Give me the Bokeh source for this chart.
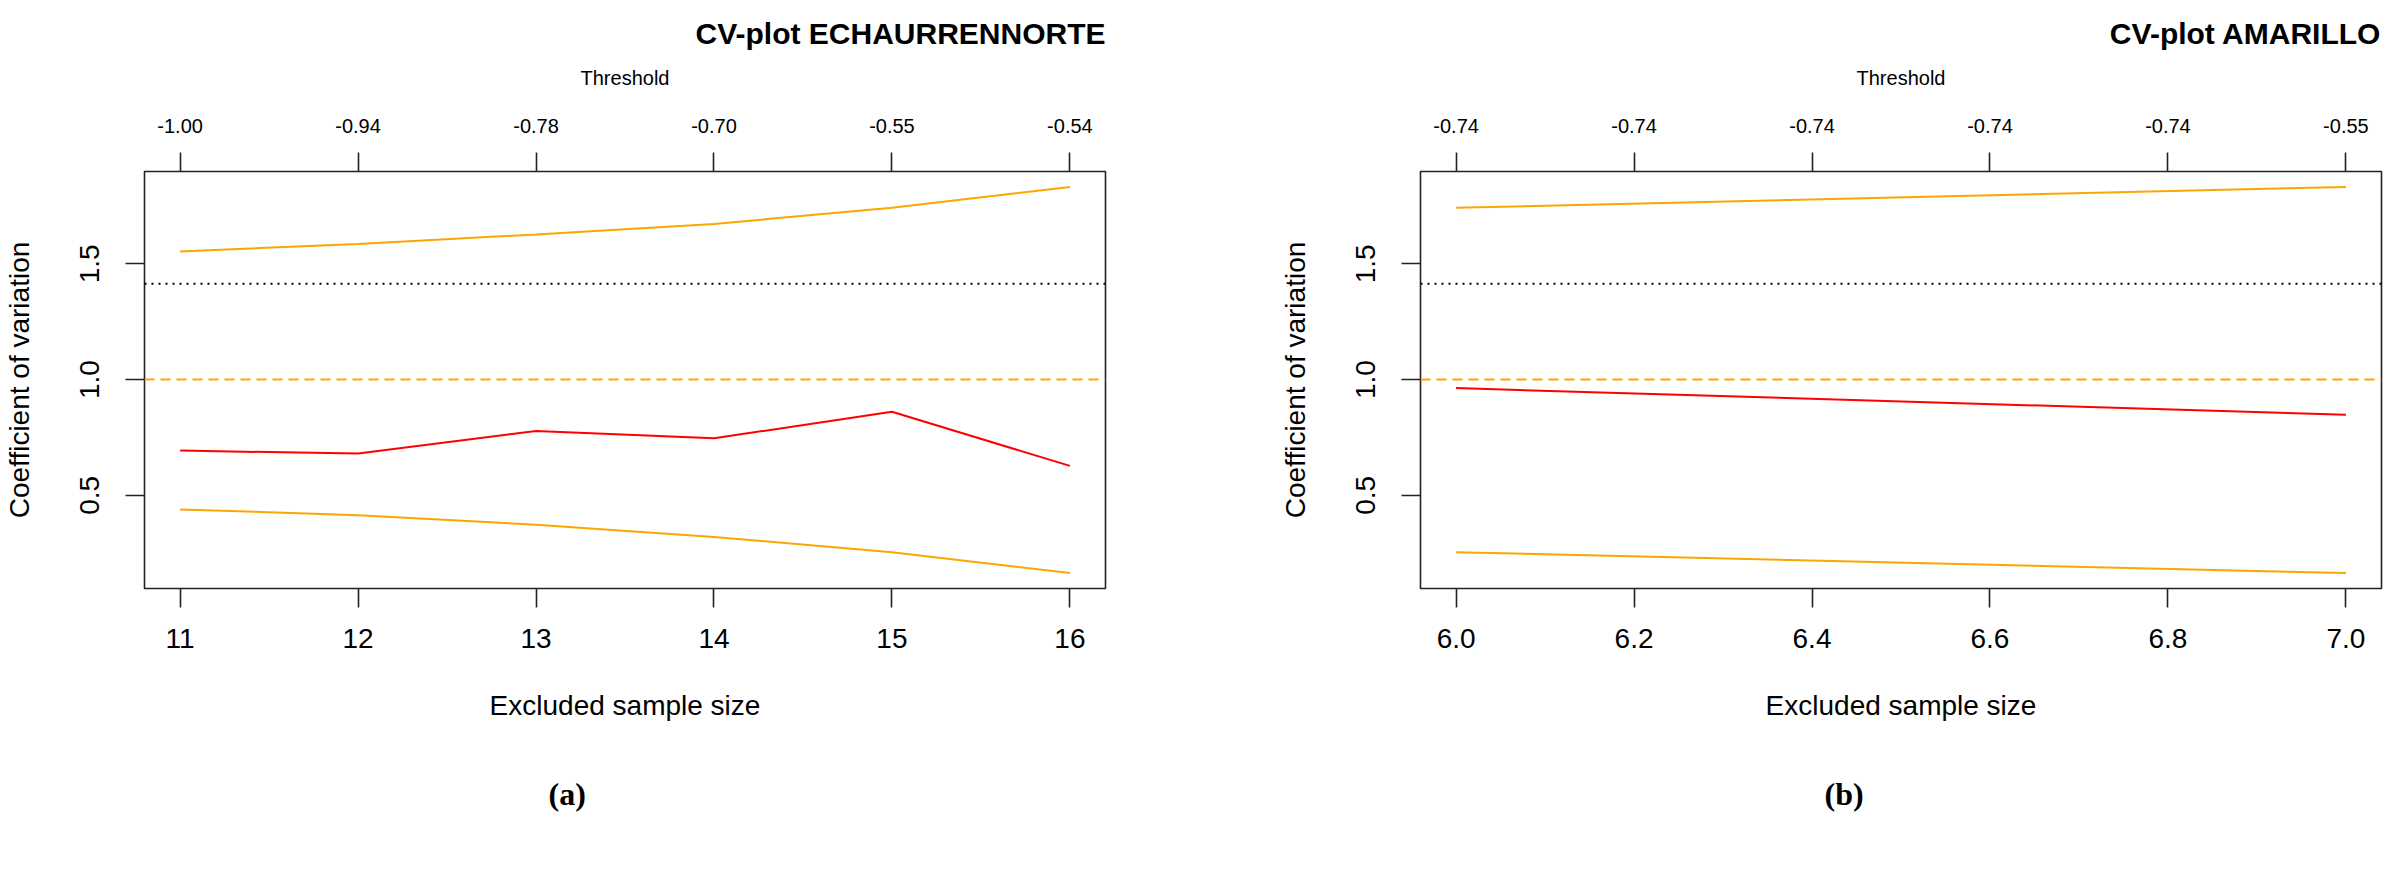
from bokeh.plotting import figure
from bokeh.models import (LinearAxis, Range1d, FixedTicker, Span, Title,
                          CustomJSTickFormatter, NumeralTickFormatter)
from bokeh.layouts import row
from bokeh.embed import file_html
from bokeh.resources import INLINE

# ---------------- data ----------------
a_title = "CV-plot ECHAURRENNORTE"
a_tag = "(a)"
a_size = [11, 12, 13, 14, 15, 16]
a_ticks = [11, 12, 13, 14, 15, 16]
a_threshold = ["-1.00", "-0.94", "-0.78", "-0.70", "-0.55", "-0.54"]
a_cv = [0.693, 0.680, 0.778, 0.746, 0.861, 0.627]
a_upper = [1.553, 1.586, 1.627, 1.672, 1.742, 1.832]
a_lower = [0.439, 0.414, 0.373, 0.320, 0.254, 0.164]

b_title = "CV-plot AMARILLO"
b_tag = "(b)"
b_size = [6.0, 7.0]
b_ticks = [6.0, 6.2, 6.4, 6.6, 6.8, 7.0]
b_threshold = ["-0.74", "-0.74", "-0.74", "-0.74", "-0.74", "-0.55"]
b_cv = [0.963, 0.848]
b_upper = [1.742, 1.832]
b_lower = [0.254, 0.164]

y_ticks = [0.5, 1.0, 1.5]
ref_dotted = 1.414
ref_dashed = 1.0

FONT = "Liberation Sans"
ORANGE = "#FFA500"
RED = "#FF0000"


def pad(lo, hi):
    d = (hi - lo) * 0.04
    return lo - d, hi + d


def panel(title, tag, xs, ticks, thresholds, cv, upper, lower, width, bl, br, xfmt):
    x0, x1 = pad(min(xs), max(xs))
    y0, y1 = pad(min(lower + cv + upper), max(lower + cv + upper))
    p = figure(width=width, height=861, x_range=Range1d(x0, x1), y_range=Range1d(y0, y1),
               output_backend="svg", toolbar_location=None,
               x_axis_location=None, y_axis_location=None,
               min_border_left=bl, min_border_right=br,
               min_border_top=168, min_border_bottom=256)
    p.grid.visible = False
    p.outline_line_color = "#222222"
    p.outline_line_width = 1.6
    p.background_fill_color = "white"
    p.border_fill_color = "white"

    common = dict(axis_line_color=None, major_tick_in=0, major_tick_out=19,
                  major_tick_line_color="#222222", major_tick_line_width=1.6,
                  minor_tick_line_color=None,
                  major_label_text_font=FONT, axis_label_text_font=FONT,
                  axis_label_text_font_style="normal",
                  major_label_text_color="black", axis_label_text_color="black")

    bottom = LinearAxis(ticker=FixedTicker(ticks=ticks), formatter=NumeralTickFormatter(format=xfmt),
                        axis_label="Excluded sample size",
                        major_label_text_font_size="28px", axis_label_text_font_size="28px",
                        major_label_standoff=21, axis_label_standoff=39, **common)
    p.add_layout(bottom, "below")

    left = LinearAxis(ticker=FixedTicker(ticks=y_ticks), formatter=NumeralTickFormatter(format="0.0"),
                      axis_label="Coefficient of variation",
                      major_label_orientation="vertical",
                      major_label_text_font_size="28px", axis_label_text_font_size="28px",
                      major_label_standoff=26, axis_label_standoff=43, **common)
    p.add_layout(left, "left")

    top = LinearAxis(ticker=FixedTicker(ticks=ticks),
                     formatter=CustomJSTickFormatter(args=dict(t=ticks, labels=thresholds), code="""
                        let best = 0;
                        for (let i = 0; i < t.length; i++) {
                          if (Math.abs(t[i] - tick) < Math.abs(t[best] - tick)) best = i;
                        }
                        return labels[best];"""),
                     axis_label="Threshold",
                     major_label_text_font_size="20px", axis_label_text_font_size="20px",
                     major_label_standoff=20, axis_label_standoff=27, **common)
    p.add_layout(top, "above")

    p.title.text = title
    p.title.align = "right"
    p.title.text_font = FONT
    p.title.text_font_size = "30px"
    p.title.text_font_style = "bold"
    p.title.text_color = "black"
    p.title.standoff = 28

    p.add_layout(Title(text=tag, align="left", offset=404, text_font="Liberation Serif",
                       text_font_size="32px", text_font_style="bold", text_color="black",
                       standoff=100), "below")

    p.add_layout(Span(location=ref_dotted, dimension="width", line_color="black",
                      line_width=2, line_dash="2 5"))
    p.add_layout(Span(location=ref_dashed, dimension="width", line_color=ORANGE,
                      line_width=2, line_dash="10 6"))

    p.line(xs, upper, line_color=ORANGE, line_width=2)
    p.line(xs, lower, line_color=ORANGE, line_width=2)
    p.line(xs, cv, line_color=RED, line_width=2)
    return p


pa = panel(a_title, a_tag, a_size, a_ticks, a_threshold, a_cv, a_upper, a_lower,
           1194, 144, 89, "0")
pb = panel(b_title, b_tag, b_size, b_ticks, b_threshold, b_cv, b_upper, b_lower,
           1195, 226, 8, "0.0")

layout = row(pa, pb)
open("out.html", "w").write(file_html(layout, INLINE))
